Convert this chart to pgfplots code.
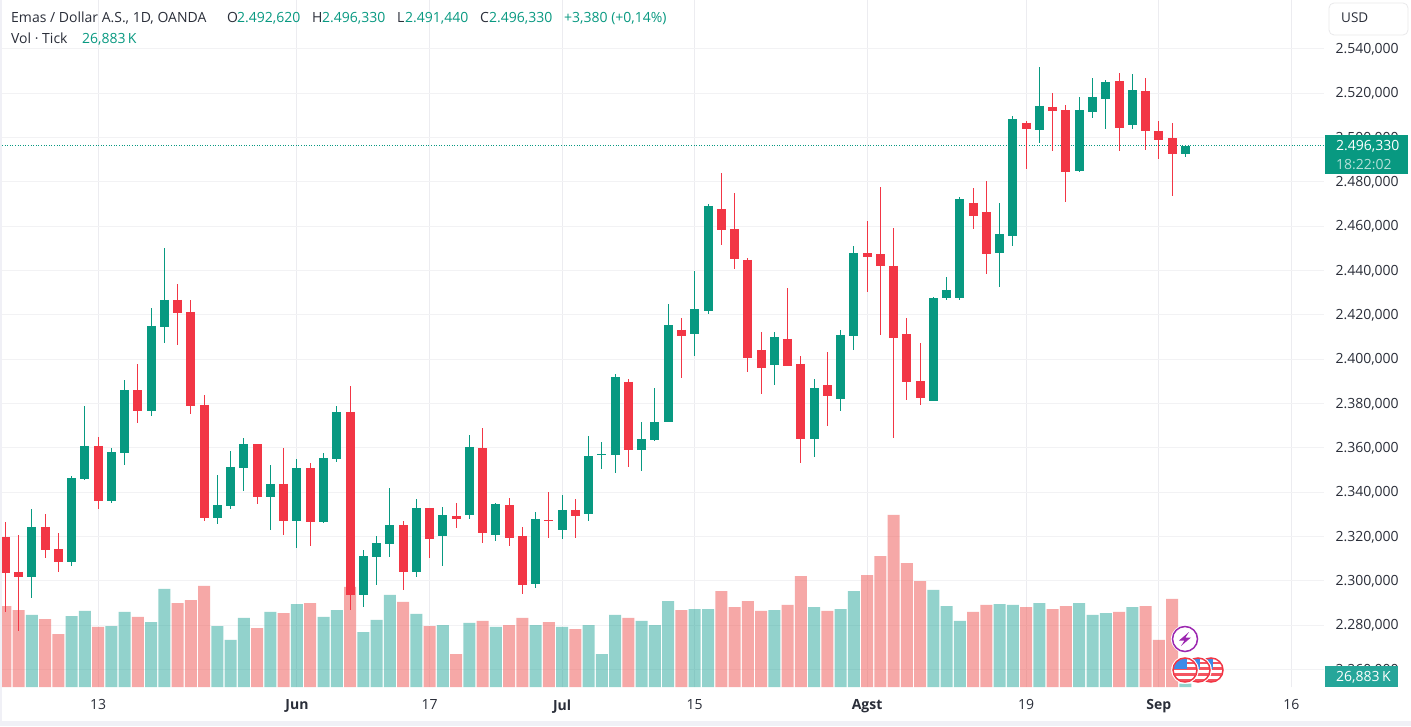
\documentclass[border=0pt]{standalone}
\usepackage{fontspec}
\setmainfont{Open Sans}
\usepackage{pgfplots}
\usepackage{pgfplotstable}
\pgfplotsset{compat=1.18}
\definecolor{upc}{HTML}{089981}
\definecolor{dnc}{HTML}{F23645}
\definecolor{upv}{HTML}{26A69A}
\definecolor{dnv}{HTML}{EF5350}
\definecolor{txt}{HTML}{2A2E39}
\definecolor{gridh}{HTML}{F2F2F4}
\definecolor{gridv}{HTML}{ECECF0}
\definecolor{frame}{HTML}{F0F0F6}
\definecolor{flagb}{HTML}{3D8BE8}
\definecolor{purp}{HTML}{9C27B0}
% x top bottom high low
\pgfplotstableread{
x top bot hi lo
2 2324.35 2301.79 2332.47 2292.32
5 2346.45 2308.56 2347.36 2306.75
6 2360.89 2346.00 2378.94 2345.55
8 2358.18 2336.08 2359.99 2335.17
9 2386.15 2357.73 2390.66 2352.32
11 2415.03 2376.68 2423.15 2374.42
12 2426.76 2414.58 2450.22 2407.36
16 2334.27 2328.41 2347.81 2325.70
17 2351.42 2333.82 2358.63 2332.47
18 2361.79 2350.96 2364.50 2340.59
20 2343.75 2337.88 2352.32 2322.99
22 2350.96 2327.05 2355.02 2314.87
24 2355.48 2326.60 2357.73 2326.15
25 2376.23 2355.02 2378.94 2353.67
27 2311.26 2293.67 2313.97 2288.26
28 2317.13 2310.81 2320.29 2298.18
29 2325.25 2316.68 2341.94 2310.81
31 2332.92 2304.05 2336.98 2301.79
33 2329.76 2320.29 2333.37 2306.75
35 2360.44 2329.76 2365.85 2327.96
37 2334.72 2320.74 2335.17 2318.03
40 2327.96 2298.63 2331.11 2296.83
42 2332.02 2322.99 2338.78 2318.93
44 2356.37 2330.21 2365.40 2327.05
45 2357.27 2356.97 2362.69 2350.51
46 2392.01 2356.82 2393.37 2348.70
48 2364.04 2359.08 2371.71 2349.61
49 2371.71 2363.59 2387.05 2363.14
50 2415.47 2371.71 2424.95 2371.71
52 2422.69 2411.41 2439.83 2401.49
53 2469.16 2421.79 2470.06 2420.43
58 2410.06 2397.43 2412.31 2388.40
61 2387.05 2364.04 2391.11 2355.92
63 2410.96 2382.09 2413.22 2376.67
64 2447.95 2410.51 2451.11 2404.19
70 2427.65 2381.19 2428.10 2381.19
71 2431.26 2427.65 2437.12 2426.74
72 2472.31 2427.65 2473.21 2426.74
75 2456.52 2447.95 2470.51 2432.61
76 2508.40 2455.62 2509.75 2451.11
78 2514.27 2503.44 2531.86 2497.57
81 2512.46 2484.94 2518.33 2484.49
82 2518.33 2511.56 2526.90 2508.85
83 2525.09 2517.42 2526.00 2503.89
85 2521.48 2505.69 2528.70 2503.89
89 2496.33 2492.62 2496.33 2491.44
}\upcandles
\pgfplotstableread{
x top bot hi lo
0 2319.84 2303.59 2326.60 2286.00
1 2304.05 2301.79 2320.74 2277.43
3 2324.35 2313.97 2330.21 2310.36
4 2314.42 2308.56 2321.64 2304.05
7 2360.89 2336.08 2364.95 2332.47
10 2386.15 2376.68 2397.88 2371.27
13 2426.76 2420.89 2433.97 2406.45
14 2421.34 2378.94 2426.76 2375.33
15 2379.39 2328.41 2383.90 2327.05
19 2361.79 2337.88 2361.79 2334.72
21 2343.75 2327.05 2359.99 2320.74
23 2350.96 2326.60 2353.22 2315.77
26 2376.23 2293.67 2387.96 2286.90
30 2325.25 2304.05 2327.05 2295.92
32 2332.92 2318.93 2332.92 2310.36
34 2329.31 2327.96 2335.17 2323.90
36 2359.98 2321.64 2369.00 2317.13
38 2334.27 2319.38 2337.43 2315.77
39 2320.29 2298.18 2324.35 2294.12
41 2327.50 2327.20 2340.14 2319.38
43 2332.02 2329.31 2336.98 2319.38
47 2389.76 2359.08 2391.11 2351.41
51 2413.22 2410.51 2418.63 2391.56
54 2467.80 2458.33 2484.05 2451.56
55 2458.78 2445.25 2475.02 2440.74
56 2444.80 2400.58 2445.70 2394.27
57 2404.19 2396.07 2412.31 2384.34
59 2409.16 2396.98 2432.16 2396.98
60 2397.88 2364.04 2401.49 2353.21
62 2388.40 2383.44 2403.29 2369.91
65 2447.95 2446.15 2462.39 2430.36
66 2447.50 2442.09 2477.73 2410.96
67 2442.09 2409.61 2459.23 2364.49
68 2411.41 2389.76 2418.63 2381.64
69 2390.21 2382.54 2407.35 2379.38
73 2470.51 2464.64 2477.27 2458.78
74 2466.45 2447.50 2480.43 2438.47
77 2506.60 2503.89 2507.50 2485.84
79 2513.82 2512.01 2520.13 2493.96
80 2512.46 2484.49 2514.72 2470.96
84 2525.54 2504.34 2529.15 2493.96
86 2521.03 2502.99 2526.90 2494.42
87 2502.99 2498.93 2507.50 2490.36
88 2499.83 2492.61 2506.60 2473.66
}\dncandles
\pgfplotstableread{
x v
2 553
5 545
6 584
8 468
9 576
11 499
12 753
16 468
17 361
18 530
20 576
22 637
24 538
25 591
27 422
28 515
29 707
31 561
33 476
35 492
37 461
40 476
42 461
44 476
45 253
46 553
48 507
49 476
50 660
52 599
53 599
58 591
61 614
63 599
64 737
70 745
71 622
72 507
75 637
76 630
78 645
81 645
82 553
83 568
85 614
89 26.883
}\upvol
\pgfplotstableread{
x v
0 622
1 591
3 522
4 407
7 461
10 538
13 645
14 668
15 776
19 453
21 568
23 645
26 768
30 653
32 468
34 253
36 507
38 476
39 530
41 499
43 445
47 530
51 591
54 737
55 614
56 660
57 584
59 630
60 852
62 584
65 860
66 1006
67 1321
68 952
69 814
73 576
74 630
77 614
79 599
80 622
84 576
86 622
87 361
88 676
}\dnvol
\pgfplotsset{panel/.style={
  at={(2pt,39pt)},anchor=south west,scale only axis,width=1322pt,height=687pt,
  xmin=-0.249,xmax=99.46}}
\newcommand{\flag}[2]{%
  \begin{scope}[shift={(#1pt,#2pt)}]
    \fill[white] (0,0) circle (13.8pt);
    \begin{scope}
      \clip (0,0) circle (11.5pt);
      \fill[white] (-12pt,-12pt) rectangle (12pt,12pt);
      \fill[dnc!85] (-12pt,3pt) rectangle (12pt,0.5pt);
      \fill[dnc!85] (-12pt,-3pt) rectangle (12pt,-6pt);
      \fill[dnc!85] (-12pt,-9pt) rectangle (12pt,-12pt);
      \fill[dnc!85] (0pt,8.5pt) rectangle (12pt,6pt);
      \fill[flagb] (-12pt,12pt) rectangle (2pt,1pt);
    \end{scope}
    \draw[dnc,line width=1.5pt] (0,0) circle (12pt);
  \end{scope}}
\begin{document}
\begin{tikzpicture}
\path[use as bounding box] (0,0) rectangle (1411pt,726pt);
\fill[white] (0,0) rectangle (1411pt,726pt);
\fill[frame] (0,0) rectangle (2pt,726pt);
\fill[frame] (0,0) rectangle (1411pt,5pt);
% grid and scales
\begin{axis}[panel,
  ymin=2252.17,ymax=2562.09,
  axis line style={draw=none},tick style={draw=none},
  xmajorgrids,ymajorgrids,
  major x grid style={gridv,line width=1pt},
  major y grid style={gridh,line width=1pt},
  xtick={7,22,32,42,52,65,77,87,97},
  xticklabels={13,\bfseries Jun,17,\bfseries Jul,15,\bfseries Agst,19,\bfseries Sep,16},
  ytick={2260,2280,...,2540},
  yticklabels={{2.260,000},{2.280,000},{2.300,000},{2.320,000},{2.340,000},{2.360,000},{2.380,000},{2.400,000},{2.420,000},{2.440,000},{2.460,000},{2.480,000},{2.500,000},{2.520,000},{2.540,000}},
  yticklabel pos=right,
  tick label style={font=\fontsize{14}{16}\selectfont,text=txt},
  xticklabel style={yshift=-9pt},
  yticklabel style={xshift=8pt,yshift=-0.5pt},
]
\end{axis}
% volume
\begin{axis}[panel,hide axis,ymin=0,ymax=5276,
  ybar,bar width=12pt,bar shift=0pt]
\addplot[draw=none,fill=upv,fill opacity=0.5] table[x=x,y=v] {\upvol};
\addplot[draw=none,fill=dnv,fill opacity=0.5] table[x=x,y=v] {\dnvol};
\end{axis}
% candles
\begin{axis}[panel,hide axis,ymin=2252.17,ymax=2562.09]
\addplot[upc,line width=1pt,dash pattern=on 1pt off 1.6pt,forget plot] coordinates {(-0.249,2496.33) (99.46,2496.33)};
\addplot[draw=none,mark=none,forget plot,error bars/.cd,y dir=both,y explicit,error mark=none,
  error bar style={upc,line width=1pt}]
  table[x=x,y=top,y error plus expr=\thisrow{hi}-\thisrow{top},y error minus expr=\thisrow{top}-\thisrow{lo}] {\upcandles};
\addplot[draw=none,mark=none,forget plot,error bars/.cd,y dir=both,y explicit,error mark=none,
  error bar style={dnc,line width=1pt}]
  table[x=x,y=top,y error plus expr=\thisrow{hi}-\thisrow{top},y error minus expr=\thisrow{top}-\thisrow{lo}] {\dncandles};
\addplot[draw=none,mark=none,forget plot,error bars/.cd,y dir=minus,y explicit,error mark=none,
  error bar style={upc,line width=9pt}]
  table[x=x,y=top,y error minus expr=\thisrow{top}-\thisrow{bot}] {\upcandles};
\addplot[draw=none,mark=none,forget plot,error bars/.cd,y dir=minus,y explicit,error mark=none,
  error bar style={dnc,line width=9pt}]
  table[x=x,y=top,y error minus expr=\thisrow{top}-\thisrow{bot}] {\dncandles};
\end{axis}
% price tags
\fill[upc] (1325pt,552pt) rectangle (1408pt,591pt);
\node[anchor=base west,inner sep=0pt,text=white,font=\fontsize{14}{16}\selectfont] at (1336pt,575pt) {2.496,330};
\node[anchor=base west,inner sep=0pt,text=white!70!upc,font=\fontsize{14}{16}\selectfont] at (1336pt,556.5pt) {18:22:02};
\fill[upv] (1325pt,39pt) rectangle (1398pt,60pt);
\node[anchor=base west,inner sep=0pt,text=white,font=\fontsize{14}{16}\selectfont] at (1336pt,45pt) {26,883\,K};
% USD
\draw[frame!80!gray!60,line width=0.8pt,fill=white,rounded corners=5pt] (1329pt,691pt) rectangle (1408pt,723pt);
\node[anchor=base west,inner sep=0pt,text=txt,font=\fontsize{13.5}{15}\selectfont] at (1341pt,703pt) {USD};
% header
\begin{scope}[every node/.style={anchor=base west,inner sep=0pt,font=\fontsize{14}{16}\selectfont}]
\node[text=txt] at (11pt,703pt) {Emas / Dollar A.S., 1D, OANDA};
\node[text=txt] at (227pt,703pt) {O}; \node[text=upc] at (237pt,703pt) {2.492,620};
\node[text=txt] at (312pt,703pt) {H}; \node[text=upc] at (322pt,703pt) {2.496,330};
\node[text=txt] at (397pt,703pt) {L}; \node[text=upc] at (405pt,703pt) {2.491,440};
\node[text=txt] at (480pt,703pt) {C}; \node[text=upc] at (489pt,703pt) {2.496,330};
\node[text=upc] at (564pt,703pt) {+3,380 (+0,14\%)};
\node[text=txt] at (11pt,682pt) {Vol · Tick};
\node[text=upc] at (82pt,682pt) {26,883\,K};
\end{scope}
% event icons
\fill[white] (1185pt,87pt) circle (14pt);
\draw[purp,line width=1.5pt] (1185pt,87pt) circle (12.5pt);
\fill[purp] (1189pt,94pt) -- (1179pt,85.5pt) -- (1184.5pt,85.5pt) -- (1181pt,80pt) -- (1191pt,88.5pt) -- (1185.5pt,88.5pt) -- cycle;
\flag{1211}{56}
\flag{1198}{56}
\flag{1185}{56}
\end{tikzpicture}
\end{document}
